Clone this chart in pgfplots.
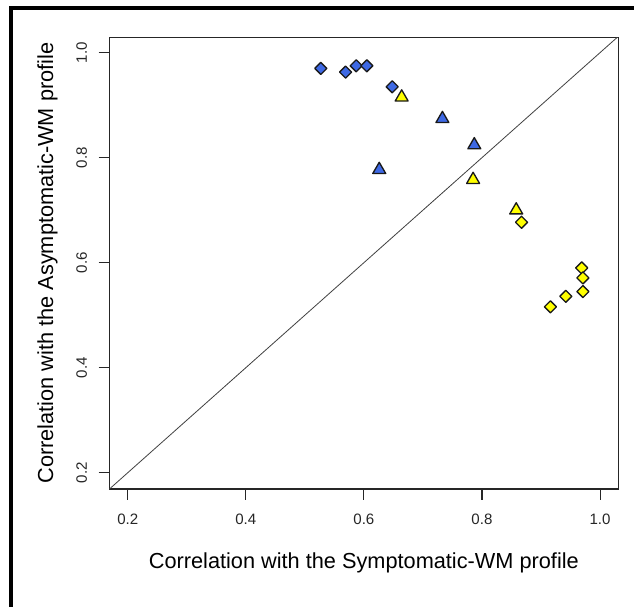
\documentclass[border=0pt]{standalone}
\usepackage{pgfplots}
\pgfplotsset{compat=1.18}
\usepackage{fontspec}
\setmainfont{Liberation Sans}
\definecolor{ptblue}{RGB}{62,105,228}
\definecolor{ptyellow}{RGB}{255,255,0}

\begin{document}
\begin{tikzpicture}
% page = 634 x 606 px, 1 px = 0.75 pt, axis box lower left at origin
\useasboundingbox (-82pt,-87.75pt) rectangle (393.5pt,366.75pt);
\fill[white] (-82pt,-87.75pt) rectangle (393.5pt,366.75pt);
\draw[line width=3pt, line cap=rect] (-73.75pt,-90pt) -- (-73.75pt,360.75pt) -- (396pt,360.75pt);

\begin{axis}[
  scale only axis,
  width=381.75pt, height=338.8pt,
  xmin=0.1688, xmax=1.031,
  ymin=0.169, ymax=1.0293,
  axis line style={black!85, line width=0.8pt},
  xtick={0.2,0.4,...,1.0},
  ytick={0.2,0.4,...,1.0},
  xtick pos=bottom, ytick pos=left,
  tick align=outside,
  major tick length=8pt,
  tick style={black!85, line width=0.8pt},
  /pgf/number format/assume math mode=true,
  /pgf/number format/fixed, /pgf/number format/fixed zerofill,
  /pgf/number format/precision=1,
  tick label style={font=\fontsize{11.3}{13}\selectfont, text=black!85},
  xticklabel style={anchor=center, yshift=-14.75pt},
  yticklabel style={anchor=center, rotate=90, yshift=12.75pt},
  xlabel={Correlation with the Symptomatic-WM profile},
  ylabel={Correlation with the Asymptomatic-WM profile},
  label style={font=\fontsize{16.3}{18}\selectfont},
  xlabel style={at={([yshift=-55.5pt]axis description cs:0.5,0)}, anchor=center},
  ylabel style={at={([xshift=-46.4pt]axis description cs:0,0.5)}, anchor=center},
  clip=true,
]

% identity line
\addplot[black!75, line width=0.6pt] coordinates {(0,0) (1.1,1.1)};

% blue diamonds
\addplot[only marks, mark=square*, mark size=3.2pt,
  mark options={rotate=45, fill=ptblue, draw=black!90, line width=1pt, line join=round}]
coordinates {
  (0.527,0.970) (0.569,0.963) (0.587,0.975) (0.605,0.975) (0.648,0.935)
};

% blue triangles
\addplot[only marks, mark=triangle*, mark size=5.6pt,
  mark options={fill=ptblue, draw=black!90, line width=1pt, line join=round}]
coordinates {
  (0.733,0.874) (0.787,0.824) (0.626,0.777)
};

% yellow triangles
\addplot[only marks, mark=triangle*, mark size=5.6pt,
  mark options={fill=ptyellow, draw=black!90, line width=1pt, line join=round}]
coordinates {
  (0.664,0.915) (0.785,0.758) (0.858,0.700)
};

% yellow diamonds
\addplot[only marks, mark=square*, mark size=3.2pt,
  mark options={rotate=45, fill=ptyellow, draw=black!90, line width=1pt, line join=round}]
coordinates {
  (0.867,0.677) (0.969,0.590) (0.971,0.571) (0.971,0.545)
  (0.942,0.536) (0.916,0.516)
};

\end{axis}
\end{tikzpicture}
\end{document}
